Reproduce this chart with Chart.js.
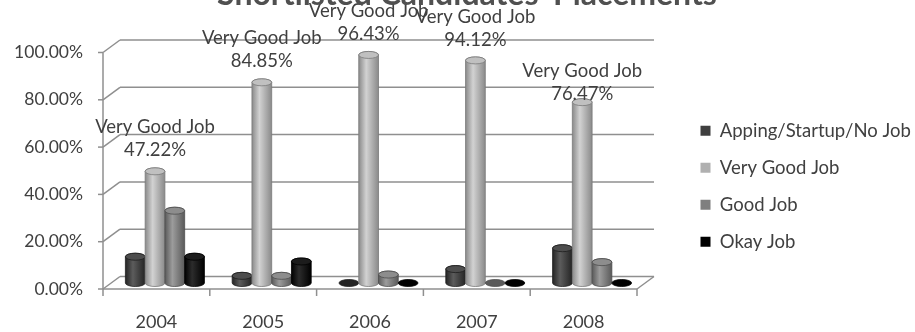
<!DOCTYPE html>
<html>
<head>
<meta charset="utf-8">
<title>Shortlisted Candidates' Placements</title>
<script src="https://cdn.jsdelivr.net/npm/chart.js@4/dist/chart.umd.min.js"></script>
<style>
  html, body { margin: 0; padding: 0; background: #ffffff; }
  #wrap { width: 915px; height: 332px; overflow: hidden; }
  canvas { display: block; }
</style>
</head>
<body>
<div id="wrap"><canvas id="chart" width="915" height="332"></canvas></div>
<script>
// Placement outcome shares per batch year (percent)
const years = ['2004', '2005', '2006', '2007', '2008'];
const appingStartupNoJob = [11.11, 3.03, 0, 5.88, 14.71];
const veryGoodJob = [47.22, 84.85, 96.43, 94.12, 76.47];
const goodJob = [30.56, 3.03, 3.57, 0, 8.82];
const okayJob = [11.11, 9.09, 0, 0, 0];
const seriesNames = ['Apping/Startup/No Job', 'Very Good Job', 'Good Job', 'Okay Job'];
const yTickValues = [0, 20, 40, 60, 80, 100];
const chartTitle = "Shortlisted Candidates' Placements";

// Cylinder shading per series: edge, highlight, cap
const shades = [
  { fill: '#3f3f3f', edge: '#242424', light: '#5c5c5c', cap: '#4d4d4d', line: '#1e1e1e' },
  { fill: '#b0b0b0', edge: '#8a8a8a', light: '#d2d2d2', cap: '#c0c0c0', line: '#7a7a7a' },
  { fill: '#7f7f7f', edge: '#5a5a5a', light: '#9c9c9c', cap: '#8d8d8d', line: '#4e4e4e' },
  { fill: '#000000', edge: '#000000', light: '#2c2c2c', cap: '#1c1c1c', line: '#000000' }
];

// Depth of the 3-D box: back wall offset and the plane the columns stand in
const DEPTH_X = 17, DEPTH_Y = -12.5;
const MID_X = 8.5, MID_Y = -6;
const CAP_RY = 3.5;
// Vertical gap between each column top and its value label
const labelGap = [18, 18, 17, 17, 5];

const textColor = '#404040';
const fontFamily = 'Lato, "Open Sans", "DejaVu Sans", sans-serif';

function seg(ctx, x1, y1, x2, y2) {
  ctx.beginPath();
  ctx.moveTo(x1, y1);
  ctx.lineTo(x2, y2);
  ctx.stroke();
}

function cylinder(ctx, cx, top, base, w, s) {
  const rx = w / 2;
  const l = cx - rx, r = cx + rx;
  if (base - top > 0.5) {
    const g = ctx.createLinearGradient(l, 0, r, 0);
    g.addColorStop(0, s.edge);
    g.addColorStop(0.38, s.light);
    g.addColorStop(1, s.edge);
    ctx.beginPath();
    ctx.moveTo(l, top);
    ctx.lineTo(l, base);
    ctx.ellipse(cx, base, rx, CAP_RY, 0, Math.PI, 0, true);
    ctx.lineTo(r, top);
    ctx.ellipse(cx, top, rx, CAP_RY, 0, 0, Math.PI, true);
    ctx.closePath();
    ctx.fillStyle = g;
    ctx.fill();
    ctx.strokeStyle = s.line;
    ctx.lineWidth = 0.8;
    ctx.stroke();
  }
  ctx.beginPath();
  ctx.ellipse(cx, top, rx, CAP_RY, 0, 0, Math.PI * 2);
  ctx.fillStyle = base - top > 0.5 ? s.cap : s.edge;
  ctx.fill();
  ctx.strokeStyle = s.line;
  ctx.lineWidth = 0.8;
  ctx.stroke();
}

const box3d = {
  id: 'box3d',
  afterInit(chart) {
    // Reserve a fixed-width column on the right for the legend
    const lg = chart.legend;
    const fit = lg.fit.bind(lg);
    lg.fit = function () { fit(); this.width = 278; };
  },
  afterLayout(chart) {
    const lg = chart.legend;
    const shiftX = 682 - lg.left;
    lg.left += shiftX; lg.right += shiftX;
    lg.top -= 6; lg.bottom -= 6;
  },
  beforeDatasetsDraw(chart) {
    const { ctx, chartArea: a, scales: { x, y } } = chart;
    ctx.save();
    ctx.strokeStyle = '#8f8f8f';
    ctx.lineWidth = 1.5;
    yTickValues.forEach(v => {
      const py = y.getPixelForValue(v);
      seg(ctx, a.left - 5, py, a.left, py);
      seg(ctx, a.left, py, a.left + DEPTH_X, py + DEPTH_Y);
      seg(ctx, a.left + DEPTH_X, py + DEPTH_Y, a.right + DEPTH_X, py + DEPTH_Y);
    });
    seg(ctx, a.left, y.getPixelForValue(100), a.left, a.bottom);
    seg(ctx, a.left, a.bottom, a.right, a.bottom);
    seg(ctx, a.right, a.bottom, a.right + DEPTH_X, a.bottom + DEPTH_Y);
    for (let i = 0; i <= years.length; i++) {
      const px = x.getPixelForValue(i - 0.5);
      seg(ctx, px, a.bottom, px, a.bottom + 7);
    }
    ctx.restore();
  },
  beforeDatasetDraw() {
    return false;
  },
  afterDatasetsDraw(chart) {
    const { ctx } = chart;
    ctx.save();
    const metas = chart.data.datasets.map((d, i) => chart.getDatasetMeta(i));
    for (let i = 0; i < years.length; i++) {
      metas.forEach((meta, d) => {
        const el = meta.data[i];
        const p = el.getProps(['x', 'y', 'base', 'width'], true);
        cylinder(ctx, p.x + MID_X, p.y + MID_Y, p.base + MID_Y, p.width, shades[d]);
      });
    }
    // Value labels on the "Very Good Job" columns
    const vMeta = metas[1];
    ctx.fillStyle = textColor;
    ctx.textAlign = 'center';
    ctx.textBaseline = 'middle';
    ctx.font = '18.5px ' + fontFamily;
    veryGoodJob.forEach((v, i) => {
      const p = vMeta.data[i].getProps(['x', 'y'], true);
      const cx = p.x + MID_X;
      const line2 = p.y + MID_Y - CAP_RY - labelGap[i];
      ctx.fillText(v.toFixed(2) + '%', cx, line2);
      ctx.fillText(seriesNames[1], cx, line2 - 23);
    });
    ctx.restore();
  },
  afterDraw(chart) {
    const { ctx } = chart;
    ctx.save();
    ctx.fillStyle = '#505050';
    ctx.textAlign = 'center';
    ctx.textBaseline = 'alphabetic';
    ctx.font = 'bold 32px ' + fontFamily;
    ctx.fillText(chartTitle, 467, 4.5);
    ctx.restore();
  }
};

const seriesData = [appingStartupNoJob, veryGoodJob, goodJob, okayJob];

new Chart(document.getElementById('chart'), {
  type: 'bar',
  data: {
    labels: years,
    datasets: seriesData.map((values, i) => ({
      label: seriesNames[i],
      data: values,
      backgroundColor: shades[i].fill,
      borderWidth: 0,
      categoryPercentage: 0.74,
      barPercentage: 1
    }))
  },
  options: {
    responsive: false,
    animation: false,
    events: [],
    layout: { padding: { top: 52.5, left: 0, right: 0, bottom: 0 } },
    scales: {
      x: {
        grid: { display: false, drawTicks: false },
        border: { display: false },
        ticks: { color: textColor, font: { family: fontFamily, size: 18 }, padding: 22 },
        afterFit(s) { s.height = 43; }
      },
      y: {
        min: 0,
        max: 100,
        grid: { display: false, drawTicks: false },
        border: { display: false },
        afterBuildTicks(s) { s.ticks = yTickValues.map(v => ({ value: v })); },
        ticks: {
          color: textColor,
          font: { family: fontFamily, size: 17.5 },
          padding: 20,
          callback: v => Number(v).toFixed(2) + '%'
        },
        afterFit(s) { s.width = 103; }
      }
    },
    plugins: {
      legend: {
        position: 'right',
        labels: {
          boxWidth: 10,
          boxHeight: 10,
          padding: 18.5,
          color: textColor,
          font: { family: fontFamily, size: 18.5 }
        }
      },
      tooltip: { enabled: false },
      title: { display: false }
    }
  },
  plugins: [box3d]
});
</script>
</body>
</html>
